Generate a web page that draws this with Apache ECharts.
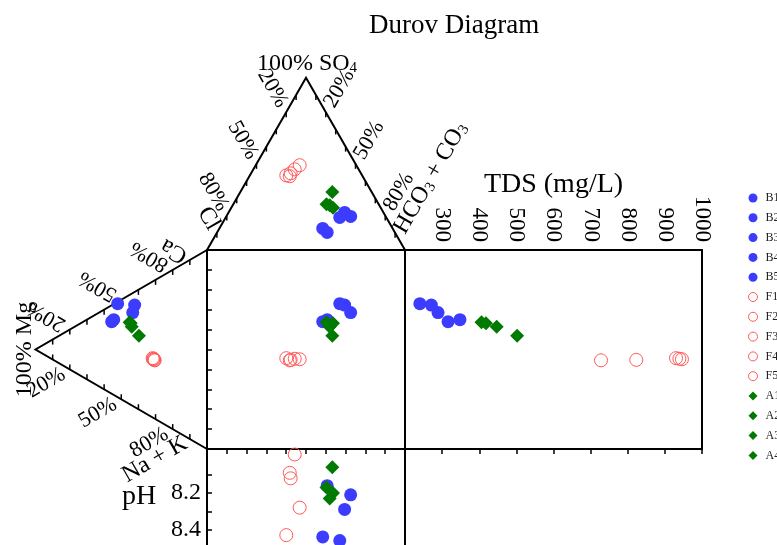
<!DOCTYPE html>
<html>
<head>
<meta charset="utf-8">
<script src="https://cdn.jsdelivr.net/npm/echarts@6/dist/echarts.min.js"></script>
<style>
html,body{margin:0;padding:0;background:#fff;}
#chart{width:777px;height:545px;}
</style>
</head>
<body>
<div id="chart"></div>
<script>
// ---------------- data ----------------
const sampleNames = ['B1','B2','B3','B4','B5','F1','F2','F3','F4','F5','A1','A2','A3','A4'];
// cations (% meq)
const caPct  = [36.2, 37.8, 47.0, 51.2, 46.9, 29.8, 29.3, 29.4, 29.8, 29.4, 37.1, 41.1, 41.0, 39.5];
const mgPct  = [55.6, 54.4, 52.1, 42.2, 43.3, 31.7, 30.5, 30.8, 31.1, 31.4, 39.7, 45.1, 44.5, 43.9];
const naKPct = [ 8.2,  7.8,  0.9,  6.6,  9.8, 38.5, 40.2, 39.8, 39.1, 39.2, 23.2, 13.8, 14.5, 16.6];
// anions (% meq)
const clPct   = [35.3, 34.2, 23.5, 19.6, 17.7, 38.3, 36.8, 35.5, 32.3, 28.6, 19.9, 26.4, 24.1, 25.1];
const so4Pct  = [12.5, 10.2, 18.9, 21.8, 19.5, 43.3, 42.8, 44.5, 46.8, 49.2, 33.6, 26.5, 24.5, 25.9];
const hco3Pct = [52.2, 55.6, 57.6, 58.6, 62.8, 18.4, 20.4, 20.0, 20.9, 22.2, 46.5, 47.1, 51.4, 49.0];
const tdsMgL  = [316, 348, 240, 271, 289, 930, 728, 823, 939, 946, 502, 406, 418, 447];
const phValues = [8.44, 8.16, 8.46, 8.29, 8.21, 8.43, 8.09, 8.12, 7.99, 8.28, 8.06, 8.17, 8.20, 8.23];

const tdsTickLabels = [300, 400, 500, 600, 700, 800, 900, 1000];
const phTickValues = [8.1, 8.2, 8.3, 8.4, 8.5, 8.6, 8.7, 8.8, 8.9, 9.0];
const phTickLabels = [8.2, 8.4, 8.6, 8.8, 9.0];
const ternaryTickFractions = [0.1, 0.2, 0.3, 0.4, 0.5, 0.6, 0.7, 0.8, 0.9];
const ternaryLabelFractions = [0.2, 0.5, 0.8];
const ternaryLabelTexts = ['20%', '50%', '80%'];

// ---------------- styles ----------------
const FONT = 'Liberation Serif';
const BLUE = '#3c3cff';
const RED = '#ff5a5a';
const GREEN = '#007a00';
const SQ3 = Math.sqrt(3) / 2;

function anionX(i) { const s = clPct[i] + so4Pct[i] + hco3Pct[i]; return (hco3Pct[i] + so4Pct[i] / 2) / s * 100; }
function anionY(i) { const s = clPct[i] + so4Pct[i] + hco3Pct[i]; return 100 + SQ3 * so4Pct[i] / s * 100; }
function cationX(i) { const s = caPct[i] + mgPct[i] + naKPct[i]; return -SQ3 * mgPct[i] / s * 100; }
function cationY(i) { const s = caPct[i] + mgPct[i] + naKPct[i]; return (caPct[i] + mgPct[i] / 2) / s * 100; }

function styleFor(name) {
  if (name[0] === 'B') return { symbol: 'circle', size: 13, itemStyle: { color: BLUE, opacity: 1 } };
  if (name[0] === 'F') return { symbol: 'circle', size: 13, itemStyle: { color: 'transparent', borderColor: RED, borderWidth: 1, opacity: 1 } };
  return { symbol: 'diamond', size: 14, itemStyle: { color: GREEN, opacity: 1 } };
}

const subRich = { s: { fontSize: 15, fontFamily: FONT, verticalAlign: 'bottom', fill: '#000' } };

function renderFrame(params, api) {
  const H = SQ3 * 100;
  const P = (x, y) => api.coord([x, y]);
  const els = [];
  const frameStyle = { stroke: '#000', lineWidth: 2, fill: 'none' };
  els.push({ type: 'polyline', shape: { points: [P(0, 100), P(50, 100 + H), P(100, 100)] }, style: frameStyle });
  els.push({ type: 'polyline', shape: { points: [P(0, 100), P(-H, 50), P(0, 0)] }, style: frameStyle });
  const tickStyle = { stroke: '#000', lineWidth: 1.5 };
  const edges = [
    { a: [50, 100 + H], b: [0, 100], tick: [0, 1], u: [-0.5, -SQ3], rot: -Math.PI / 3, align: 'right', name: 'Cl', nameF: 0.9 },
    { a: [50, 100 + H], b: [100, 100], tick: [0, 1], u: [0.5, -SQ3], rot: Math.PI / 3, align: 'left', name: 'HCO{s|3} + CO{s|3}', nameF: 0.92 },
    { a: [-H, 50], b: [0, 100], tick: [0, 1], u: [-SQ3, -0.5], rot: 5 * Math.PI / 6, align: 'left', name: 'Ca', nameF: 0.9 },
    { a: [-H, 50], b: [0, 0], tick: [0, -1], u: [-SQ3, 0.5], rot: Math.PI / 6, align: 'right', name: 'Na + K', nameF: 0.9 }
  ];
  edges.forEach(e => {
    const pt = f => P(e.a[0] + (e.b[0] - e.a[0]) * f, e.a[1] + (e.b[1] - e.a[1]) * f);
    ternaryTickFractions.forEach(f => {
      const p = pt(f);
      els.push({ type: 'line', shape: { x1: p[0], y1: p[1], x2: p[0] + e.tick[0] * 5, y2: p[1] + e.tick[1] * 5 }, style: tickStyle });
    });
    const g = 7;
    ternaryLabelFractions.forEach((f, k) => {
      const p = pt(f);
      els.push({ type: 'text', x: p[0] + e.u[0] * g, y: p[1] + e.u[1] * g, rotation: e.rot,
        style: { text: ternaryLabelTexts[k], fontSize: 22, fontFamily: FONT, fill: '#000', align: e.align, verticalAlign: 'middle' } });
    });
    const pn = pt(e.nameF);
    els.push({ type: 'text', x: pn[0] + e.u[0] * 5, y: pn[1] + e.u[1] * 5, rotation: e.rot,
      style: { text: e.name, rich: subRich, fontSize: 24, fontFamily: FONT, fill: '#000', align: e.align, verticalAlign: 'middle' } });
  });
  const apexTop = P(50, 100 + H);
  els.push({ type: 'text', x: apexTop[0] + 1, y: apexTop[1] - 14,
    style: { text: '100% SO{s|4}', rich: subRich, fontSize: 24, fontFamily: FONT, fill: '#000', align: 'center', verticalAlign: 'middle' } });
  const apexLeft = P(-H, 50);
  els.push({ type: 'text', x: apexLeft[0] - 11, y: apexLeft[1], rotation: Math.PI / 2,
    style: { text: '100% Mg', fontSize: 24, fontFamily: FONT, fill: '#000', align: 'center', verticalAlign: 'middle' } });
  return { type: 'group', children: els };
}

const series = [{
  type: 'custom', name: 'frame', xAxisIndex: 0, yAxisIndex: 0, clip: false, z: 1,
  renderItem: renderFrame, data: [[0, 0]], silent: true
}];

sampleNames.forEach((name, i) => {
  const st = styleFor(name);
  const base = { type: 'scatter', name: name, symbol: st.symbol, symbolSize: st.size, itemStyle: st.itemStyle,
    clip: false, z: 3, silent: true, emphasis: { disabled: true } };
  series.push(Object.assign({}, base, { xAxisIndex: 0, yAxisIndex: 0,
    data: [[anionX(i), anionY(i)], [cationX(i), cationY(i)], [anionX(i), cationY(i)]] }));
  series.push(Object.assign({}, base, { xAxisIndex: 1, yAxisIndex: 1, data: [[tdsMgL[i], cationY(i)]] }));
  series.push(Object.assign({}, base, { xAxisIndex: 2, yAxisIndex: 2, data: [[anionX(i), phValues[i]]] }));
});

const tickCfg = { show: true, inside: true, length: 5, lineStyle: { color: '#000', width: 1.5 } };
const gridCfg = { show: true, borderColor: '#000', borderWidth: 2, backgroundColor: 'transparent',
  containLabel: false, outerBoundsMode: 'none' };

const option = {
  animation: false,
  backgroundColor: '#fff',
  textStyle: { fontFamily: FONT },
  title: { text: 'Durov Diagram', left: 369, top: 12, padding: 0,
    textStyle: { fontFamily: FONT, fontSize: 27, fontWeight: 'normal', color: '#000' } },
  legend: {
    orient: 'vertical', left: 748, top: 192, padding: 0,
    itemWidth: 9, itemHeight: 9, itemGap: 7.8,
    textStyle: { fontFamily: FONT, fontSize: 12, color: '#222', padding: [0, 0, 0, 3] },
    selectedMode: false,
    data: sampleNames.map(n => n[0] === 'F'
      ? { name: n, icon: 'circle', itemStyle: { color: 'transparent', borderColor: RED, borderWidth: 1 } }
      : { name: n })
  },
  grid: [
    Object.assign({ left: 207, top: 250, width: 198, height: 199 }, gridCfg),
    Object.assign({ left: 405, top: 250, width: 297, height: 199 }, gridCfg),
    Object.assign({ left: 207, top: 449, width: 198, height: 199 }, gridCfg)
  ],
  xAxis: [
    { gridIndex: 0, type: 'value', min: 0, max: 100, interval: 10, position: 'top',
      axisLine: { show: false }, axisTick: tickCfg, axisLabel: { show: false }, splitLine: { show: false } },
    { gridIndex: 1, type: 'value', min: 200, max: 1000, interval: 100, position: 'top',
      axisLine: { show: false }, axisTick: tickCfg, splitLine: { show: false },
      axisLabel: { rotate: -90, margin: 8, fontSize: 23, fontFamily: FONT, color: '#000',
        customValues: tdsTickLabels, formatter: v => String(v), hideOverlap: false },
      name: 'TDS (mg/L)', nameLocation: 'middle', nameGap: 51, nameMoveOverlap: false,
      nameTextStyle: { fontSize: 28, fontFamily: FONT, color: '#000' } },
    { gridIndex: 2, type: 'value', min: 0, max: 100, show: false }
  ],
  yAxis: [
    { gridIndex: 0, type: 'value', min: 0, max: 100, interval: 10, position: 'left',
      axisLine: { show: false }, axisTick: tickCfg, axisLabel: { show: false }, splitLine: { show: false } },
    { gridIndex: 1, type: 'value', min: 0, max: 100, show: false },
    { gridIndex: 2, type: 'value', min: 7.96, max: 9.046, inverse: true, position: 'left',
      axisLine: { show: false }, splitLine: { show: false },
      axisTick: Object.assign({}, tickCfg, { customValues: phTickValues }),
      axisLabel: { customValues: phTickLabels, margin: 6, fontSize: 24, fontFamily: FONT, color: '#000',
        formatter: v => Number(v).toFixed(1) } }
  ],
  graphic: [
    { type: 'text', x: 139, y: 497, silent: true,
      style: { text: 'pH', fontSize: 28, fontFamily: FONT, fill: '#000', align: 'center', verticalAlign: 'middle' } }
  ],
  series: series
};

const chart = echarts.init(document.getElementById('chart'), null, { renderer: 'canvas' });
chart.setOption(option);
</script>
</body>
</html>
